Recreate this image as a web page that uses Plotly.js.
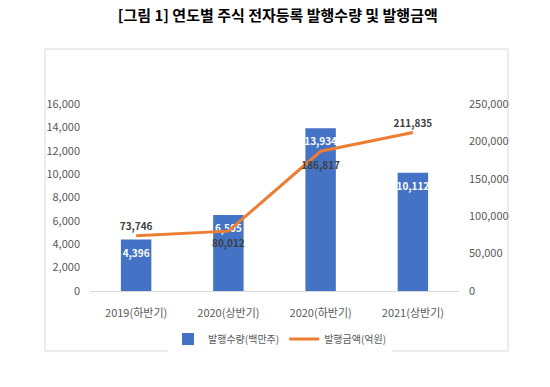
<!DOCTYPE html>
<html>
<head>
<meta charset="utf-8">
<script src="https://cdn.plot.ly/plotly-3.0.1.min.js"></script>
<style>html,body{margin:0;padding:0;background:#fff;}#chart{width:550px;height:387px;}</style>
</head>
<body>
<div id="chart"></div>
<script>
const categories = ['2019(하반기)', '2020(상반기)', '2020(하반기)', '2021(상반기)'];
const issueVolume = [4396, 6505, 13934, 10112];      // 발행수량(백만주)
const issueAmount = [73746, 80012, 186817, 211835];  // 발행금액(억원)
const amountLabelPos = ['top center', 'bottom center', 'bottom center', 'top center'];
const leftTicks = [0, 2000, 4000, 6000, 8000, 10000, 12000, 14000, 16000];
const rightTicks = [0, 50000, 100000, 150000, 200000, 250000];

const FONT = '"Noto Sans CJK KR", "Noto Sans", sans-serif';
const W = 550, H = 387;
const L = 90, R = 459, T = 104, B = 291;
const px = x => (x - L) / (R - L);
const py = y => (B - y) / (B - T);
const fmt = v => v.toLocaleString('en-US');
const hiddenMarker = size => ({size: size, color: 'rgba(0,0,0,0)', opacity: 0, line: {width: 0, color: 'rgba(0,0,0,0)'}});

const traces = [
  {
    type: 'bar', x: categories, y: issueVolume, name: '발행수량(백만주)',
    marker: {color: '#4472C4'}, width: 0.33,
    hoverinfo: 'skip'
  },
  {
    type: 'scatter', mode: 'lines', x: categories, y: issueAmount, yaxis: 'y2',
    name: '발행금액(억원)',
    line: {color: '#ED7D31', width: 3},
    hoverinfo: 'skip'
  },
  {
    type: 'scatter', mode: 'markers+text', x: categories, y: issueVolume,
    marker: hiddenMarker(14),
    text: issueVolume.map(fmt), textposition: 'bottom center',
    textfont: {color: '#ffffff', size: 10, family: FONT, weight: 700},
    showlegend: false, hoverinfo: 'skip', cliponaxis: false
  },
  {
    type: 'scatter', mode: 'markers+text', x: categories, y: issueAmount, yaxis: 'y2',
    marker: hiddenMarker([4, 12, 15, 4]),
    text: issueAmount.map(fmt), textposition: amountLabelPos,
    textfont: {color: '#404040', size: 10, family: FONT, weight: 700},
    showlegend: false, hoverinfo: 'skip', cliponaxis: false
  }
];

const layout = {
  width: W, height: H,
  margin: {l: L, r: W - R, t: T, b: H - B, pad: 0},
  paper_bgcolor: '#ffffff', plot_bgcolor: 'rgba(0,0,0,0)',
  font: {family: FONT, color: '#595959', size: 11},
  title: {
    text: '<b>[그림 1] 연도별 주식 전자등록 발행수량 및 발행금액</b>',
    font: {family: FONT, size: 15, color: '#000000'},
    x: 0.505, xanchor: 'center', xref: 'container',
    y: 1 - 16 / H, yanchor: 'middle', yref: 'container'
  },
  showlegend: true,
  legend: {
    orientation: 'h', x: px(280), xanchor: 'center', y: py(339), yanchor: 'middle',
    font: {family: FONT, size: 10, color: '#595959'}, traceorder: 'normal',
    itemwidth: 30, tracegroupgap: 0
  },
  xaxis: {
    type: 'category', showgrid: false, zeroline: false,
    showline: true, linecolor: '#d9d9d9', linewidth: 1,
    ticks: '', ticklabelstandoff: 12,
    tickfont: {family: FONT, size: 11, color: '#595959'}
  },
  yaxis: {
    range: [0, 16000], tickvals: leftTicks, tickformat: ',d',
    showgrid: false, zeroline: false, showline: false, ticks: '',
    ticklabelstandoff: 9,
    tickfont: {family: FONT, size: 11, color: '#595959'}
  },
  yaxis2: {
    range: [0, 250000], tickvals: rightTicks, tickformat: ',d',
    overlaying: 'y', side: 'right',
    showgrid: false, zeroline: false, showline: false, ticks: '',
    ticklabelstandoff: 9,
    tickfont: {family: FONT, size: 11, color: '#595959'}
  },
  shapes: [{
    type: 'rect', xref: 'paper', yref: 'paper',
    x0: px(45), x1: px(508), y0: py(351), y1: py(49),
    line: {color: '#d9d9d9', width: 1}, fillcolor: 'rgba(0,0,0,0)', layer: 'below'
  }]
};

Plotly.newPlot('chart', traces, layout, {staticPlot: true, displayModeBar: false});
</script>
</body>
</html>
